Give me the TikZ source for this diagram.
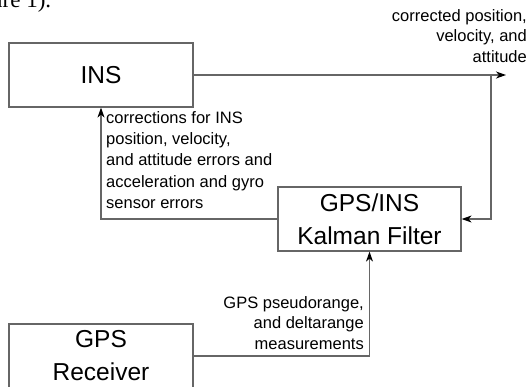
\documentclass[tikz,border=0pt]{standalone}
\usepackage{fontspec}
\setmainfont{Liberation Sans}
\newfontfamily\pageserif{Liberation Serif}
\usetikzlibrary{arrows.meta}
\tikzset{
  blockbox/.style={draw=black!60, line width=1.2pt, minimum width=184pt, minimum height=64pt,
    inner sep=0pt, align=center, font=\fontsize{24.5}{33}\selectfont},
  flow/.style={draw=black!60, line width=1.2pt,
    -{Stealth[length=10pt,width=7pt,inset=3pt,color=black]}},
  note/.style={inner sep=0pt, font=\fontsize{16.5}{20.5}\selectfont},
}
\begin{document}
\begin{tikzpicture}[x=1pt,y=-1pt]
  \useasboundingbox (0,0) rectangle (529,386);
  \clip (0,0) rectangle (529,386);
  % cut-off text of the page above
  \node[anchor=base west, inner sep=0pt, font=\pageserif\fontsize{23}{23}\selectfont] (pagetext) at (-9,7) {ure 1).};
  % blocks
  \node[blockbox] (ins) at (101,75) {INS};
  \node[blockbox, minimum width=183pt] (kf) at (369.5,219) {GPS/INS\\Kalman Filter};
  \node[blockbox] (gps) at (101,356) {GPS\\Receiver};
  % connectors
  \coordinate (out) at (506,75);
  \coordinate (tap) at (491,75);
  \draw[flow] (ins.east) -- (out);
  \draw[flow] (tap) |- (kf.east);
  \draw[flow] (kf.west) -| (ins.south);
  \draw[flow] (gps.east) -| (kf.south);
  % labels
  \node[note, anchor=north east, align=right] (outlabel) at (527,9) {corrected position,\\velocity, and\\attitude};
  \node[note, anchor=north west, align=left, font=\fontsize{16.5}{21.3}\selectfont] (corrlabel) at (106,111)
    {corrections for INS\\position, velocity,\\and attitude errors and\\acceleration and gyro\\sensor errors};
  \node[note, anchor=north east, align=right] (measlabel) at (364,296) {GPS pseudorange,\\and deltarange\\measurements};
\end{tikzpicture}
\end{document}
